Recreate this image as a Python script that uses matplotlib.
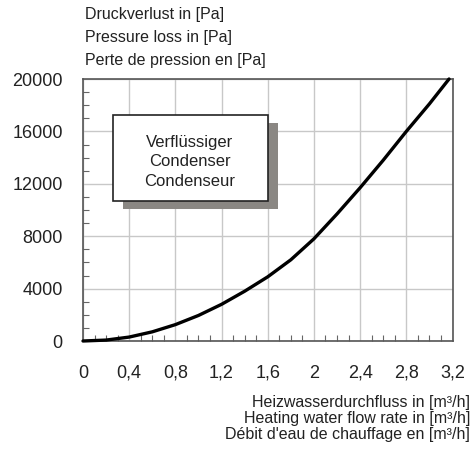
import matplotlib.pyplot as plt
import matplotlib.ticker as ticker
from matplotlib.patches import Rectangle

# flow rate [m3/h] and pressure loss [Pa]
flow = [0, 0.2, 0.4, 0.6, 0.8, 1.0, 1.2, 1.4, 1.6, 1.8, 2.0, 2.2, 2.4, 2.6, 2.8, 3.0, 3.17]
dp = [0, 70, 300, 700, 1250, 1950, 2800, 3800, 4900, 6200, 7800, 9700, 11700, 13800, 16000, 18100, 20000]

x_ticks = [0, 0.4, 0.8, 1.2, 1.6, 2.0, 2.4, 2.8, 3.2]
x_labels = ["0", "0,4", "0,8", "1,2", "1,6", "2", "2,4", "2,8", "3,2"]
y_ticks = [0, 4000, 8000, 12000, 16000, 20000]

y_title = ["Druckverlust in [Pa]", "Pressure loss in [Pa]", "Perte de pression en [Pa]"]
x_title = ["Heizwasserdurchfluss in [m\u00b3/h]", "Heating water flow rate in [m\u00b3/h]",
           "D\u00e9bit d'eau de chauffage en [m\u00b3/h]"]
box_text = "Verfl\u00fcssiger\nCondenser\nCondenseur"

plt.rcParams['font.family'] = ['Liberation Sans', 'DejaVu Sans']
txt = '#222222'

W, H = 473, 449
fig = plt.figure(figsize=(W / 100, H / 100), dpi=100)
ax = fig.add_axes([83 / W, 1 - 341 / H, (452.5 - 83) / W, (341 - 79) / H])

ax.plot(flow, dp, color='black', lw=2.4, solid_capstyle='round', zorder=3, clip_on=False)

ax.set_xlim(0, 3.2)
ax.set_ylim(0, 20000)
ax.set_xticks(x_ticks)
ax.set_xticklabels(x_labels)
ax.set_yticks(y_ticks)
ax.xaxis.set_minor_locator(ticker.MultipleLocator(0.1))
ax.yaxis.set_minor_locator(ticker.MultipleLocator(1000))
ax.grid(True, which='major', color='#c8c8c8', lw=1)
ax.tick_params(which='major', length=0, labelsize=13, colors=txt)
ax.tick_params(axis='x', which='major', pad=17)
ax.tick_params(axis='y', which='major', pad=14.5)
ax.tick_params(which='minor', direction='in', length=4, width=0.8, color='#666666')
for s in ax.spines.values():
    s.set_color('#555555')
    s.set_linewidth(1.2)

# axis titles
for i, line in enumerate(y_title):
    fig.text(85 / W, 1 - (15 + i * 22.5) / H, line, fontsize=11.5, color=txt,
             ha='left', va='center')
for i, line in enumerate(x_title):
    fig.text(470 / W, 1 - (403 + i * 16) / H, line, fontsize=11.5, color=txt,
             ha='right', va='center')

# label box with shadow
fig.patches.append(Rectangle((123 / W, 1 - 209 / H), 155 / W, 86 / H,
                             transform=fig.transFigure, facecolor='#8a8783',
                             edgecolor='none', zorder=5))
fig.patches.append(Rectangle((113 / W, 1 - 201 / H), 155 / W, 86 / H,
                             transform=fig.transFigure, facecolor='white',
                             edgecolor='#222222', lw=1.2, zorder=6))
fig.text(190 / W, 1 - 162 / H, box_text, fontsize=12, color=txt, ha='center',
         va='center', linespacing=1.35, zorder=7)

fig.savefig('out.png', dpi=100)
